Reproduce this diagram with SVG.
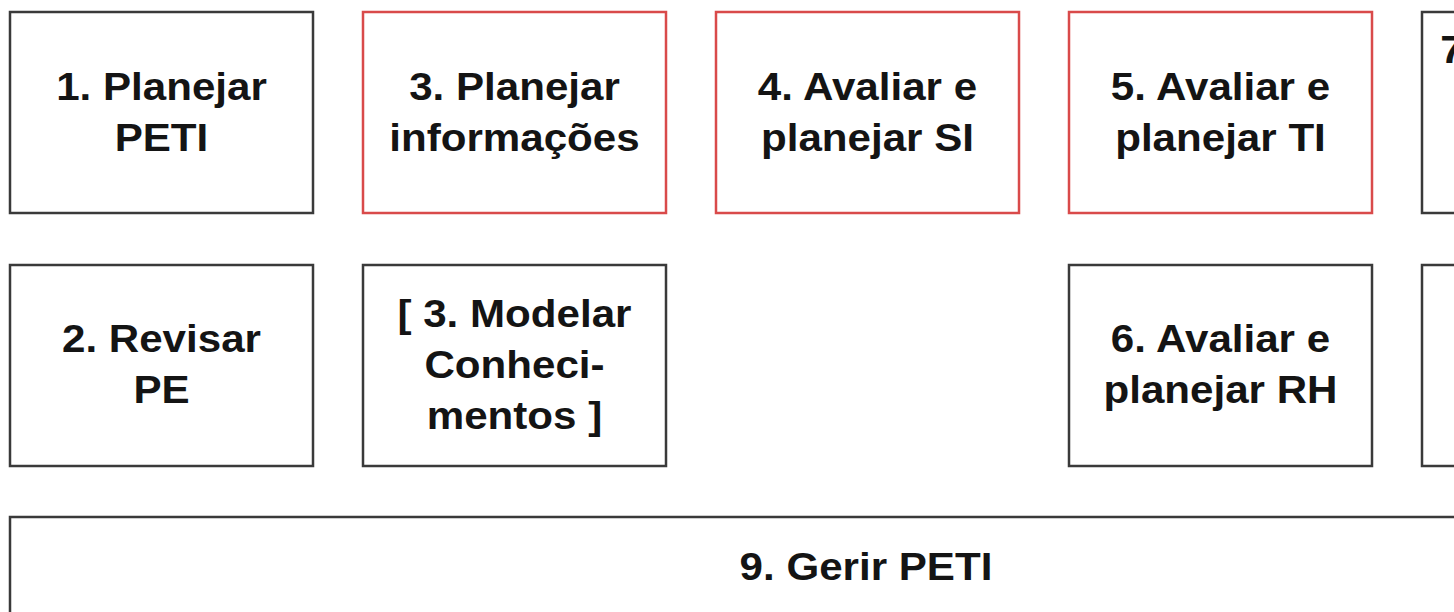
<svg xmlns="http://www.w3.org/2000/svg" width="1454" height="612" viewBox="0 0 1454 612">
<style>
.box{fill:#fff;stroke:#3a3a3a;stroke-width:2.5}
.red{fill:#fff;stroke:#d94a4a;stroke-width:2.5}
.t{font-family:"Liberation Sans",Arial,sans-serif;font-weight:bold;font-size:39px;fill:#141414;text-anchor:middle;transform-box:fill-box;transform-origin:center;transform:scaleX(1.08)}
</style>
<rect width="1454" height="612" fill="#fff"/>
<g id="n1"><rect class="box" x="10" y="12" width="303" height="201"/>
<text class="t" x="161.5" y="100">1. Planejar</text><text class="t" x="161.5" y="151">PETI</text></g>
<g id="n3"><rect class="red" x="363" y="12" width="303" height="201"/>
<text class="t" x="514.5" y="100">3. Planejar</text><text class="t" x="514.5" y="151">informações</text></g>
<g id="n4"><rect class="red" x="716" y="12" width="303" height="201"/>
<text class="t" x="867.5" y="100">4. Avaliar e</text><text class="t" x="867.5" y="151">planejar SI</text></g>
<g id="n5"><rect class="red" x="1069" y="12" width="303" height="201"/>
<text class="t" x="1220.5" y="100">5. Avaliar e</text><text class="t" x="1220.5" y="151">planejar TI</text></g>
<g id="n7"><rect class="box" x="1422" y="12" width="303" height="201"/>
<text class="t" x="1452" y="63">7</text></g>
<g id="n2"><rect class="box" x="10" y="265" width="303" height="201"/>
<text class="t" x="161.5" y="352">2. Revisar</text><text class="t" x="161.5" y="403">PE</text></g>
<g id="n3b"><rect class="box" x="363" y="265" width="303" height="201"/>
<text class="t" x="514.5" y="327">[ 3. Modelar</text><text class="t" x="514.5" y="378">Conheci-</text><text class="t" x="514.5" y="429">mentos ]</text></g>
<g id="n6"><rect class="box" x="1069" y="265" width="303" height="201"/>
<text class="t" x="1220.5" y="352">6. Avaliar e</text><text class="t" x="1220.5" y="403">planejar RH</text></g>
<g id="n8"><rect class="box" x="1422" y="265" width="303" height="201"/></g>
<g id="n9"><rect class="box" x="10" y="517" width="1715" height="201"/>
<text class="t" x="866" y="580">9. Gerir PETI</text></g>
<g id="connectors"></g>
</svg>
